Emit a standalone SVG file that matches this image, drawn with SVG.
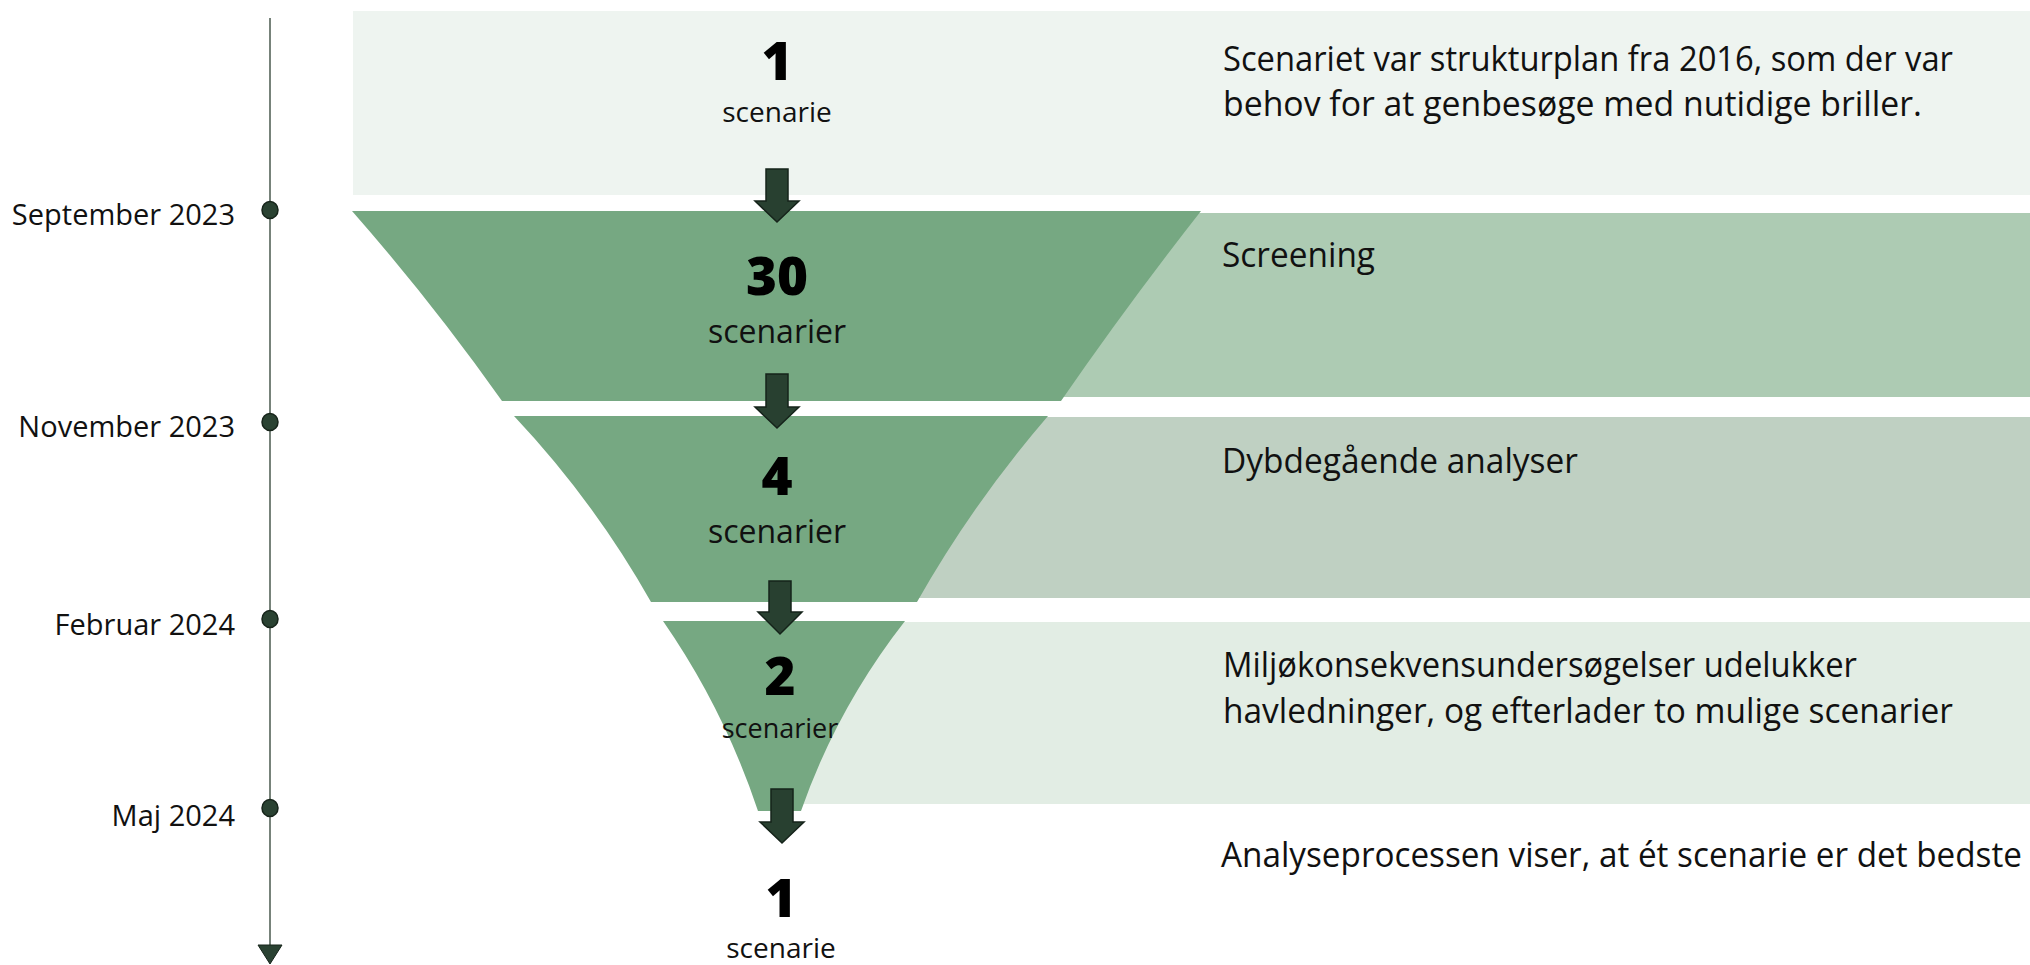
<svg xmlns="http://www.w3.org/2000/svg" width="2030" height="965" viewBox="0 0 2030 965">
<style>
.lbl{font-family:"Open Sans","Noto Sans","Liberation Sans",sans-serif;font-size:29px;fill:#111;}
.num{font-family:"Open Sans","Noto Sans","DejaVu Sans",sans-serif;font-weight:800;font-size:53px;fill:#000;text-anchor:middle;}
.sub{font-family:"Open Sans","Noto Sans","Liberation Sans",sans-serif;fill:#111;text-anchor:middle;}
.desc{font-family:"Open Sans","Noto Sans","Liberation Sans",sans-serif;font-size:34px;fill:#111;}
.funnel{fill:#76a882;}
.dot{fill:#2a4232;stroke:#16241a;stroke-width:1.5;}
.arr{fill:#284030;stroke:#15231a;stroke-width:1.5;stroke-linejoin:miter;}
</style>
<rect width="2030" height="965" fill="#ffffff"/>
<g id="bands">
<rect x="353" y="11" width="1677" height="184" fill="#eef4f0"/>
<rect x="1050" y="213" width="980" height="184" fill="#adcbb3"/>
<rect x="900" y="417" width="1130" height="181" fill="#bfd0c2"/>
<rect x="790" y="622" width="1240" height="182" fill="#e2ede4"/>
</g>
<g id="timeline">
<line x1="270" y1="18" x2="270" y2="948" stroke="#4a5a4e" stroke-width="1.5"/>
<polygon points="258,945 282,945 270,964" fill="#2a4232" stroke="#16241a" stroke-width="1"/>
</g>
<g id="node-sep">
<ellipse class="dot" cx="270" cy="210" rx="8" ry="8.5"/>
<text class="lbl" x="235" y="225" text-anchor="end">September 2023</text>
</g>
<g id="node-nov">
<ellipse class="dot" cx="270" cy="422" rx="8" ry="8.5"/>
<text class="lbl" x="235" y="437" text-anchor="end">November 2023</text>
</g>
<g id="node-feb">
<ellipse class="dot" cx="270" cy="619" rx="8" ry="8.5"/>
<text class="lbl" x="235" y="635" text-anchor="end">Februar 2024</text>
</g>
<g id="node-maj">
<ellipse class="dot" cx="270" cy="808" rx="8" ry="8.5"/>
<text class="lbl" x="235" y="826" text-anchor="end">Maj 2024</text>
</g>
<g id="stage-1">
<text class="num" x="777" y="80">1</text>
<text class="sub" x="777" y="122" font-size="28">scenarie</text>
<text class="desc" x="1223" y="71" textLength="730" lengthAdjust="spacingAndGlyphs">Scenariet var strukturplan fra 2016, som der var</text>
<text class="desc" x="1223" y="116" textLength="699" lengthAdjust="spacingAndGlyphs">behov for at genbesøge med nutidige briller.</text>
</g>
<g id="stage-30">
<path class="funnel" d="M352,211 L1201,211 Q1128,304 1061,401 L502,401 Q432,302 352,211 Z"/>
<text class="num" x="777" y="295">30</text>
<text class="sub" x="777" y="343" font-size="32">scenarier</text>
<text class="desc" x="1222" y="267" textLength="153" lengthAdjust="spacingAndGlyphs">Screening</text>
</g>
<g id="stage-4">
<path class="funnel" d="M514,416 L1048,416 Q973,503 917,602 L651,602 Q594,501 514,416 Z"/>
<text class="num" x="777" y="495">4</text>
<text class="sub" x="777" y="543" font-size="32">scenarier</text>
<text class="desc" x="1222" y="473" textLength="356" lengthAdjust="spacingAndGlyphs">Dybdegående analyser</text>
</g>
<g id="stage-2">
<path class="funnel" d="M663,621 L905,621 Q837,708 801,811 L758,811 Q724,709 663,621 Z"/>
<text class="num" x="780" y="695">2</text>
<text class="sub" x="780" y="738" font-size="27">scenarier</text>
<text class="desc" x="1223" y="677" textLength="634" lengthAdjust="spacingAndGlyphs">Miljøkonsekvensundersøgelser udelukker</text>
<text class="desc" x="1223" y="723" textLength="730" lengthAdjust="spacingAndGlyphs">havledninger, og efterlader to mulige scenarier</text>
</g>
<g id="stage-final">
<text class="num" x="781" y="917">1</text>
<text class="sub" x="781" y="958" font-size="28">scenarie</text>
<text class="desc" x="1221" y="867" textLength="801" lengthAdjust="spacingAndGlyphs">Analyseprocessen viser, at ét scenarie er det bedste</text>
</g>
<g id="connectors">
<path class="arr" d="M766,169 L788,169 L788,201 L799,201 L777,222 L755,201 L766,201 Z"/>
<path class="arr" d="M766,374 L788,374 L788,407 L799,407 L777,428 L755,407 L766,407 Z"/>
<path class="arr" d="M769,581 L791,581 L791,612 L802,612 L780,634 L758,612 L769,612 Z"/>
<path class="arr" d="M771,789 L793,789 L793,822 L804,822 L782,843 L760,822 L771,822 Z"/>
</g>
</svg>
